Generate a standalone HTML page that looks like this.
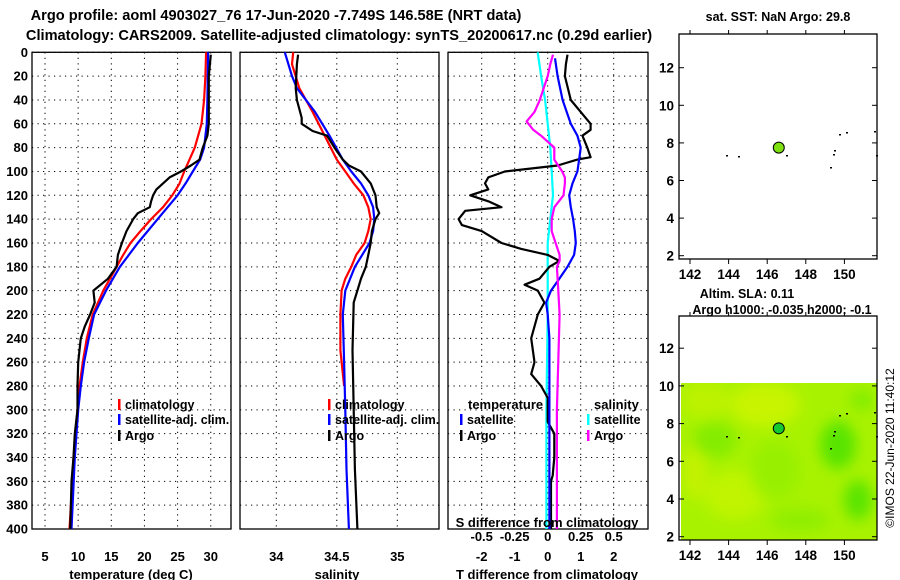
<!DOCTYPE html>
<html><head><meta charset="utf-8">
<style>
html,body{margin:0;padding:0;background:#fff;}
svg{display:block;font-family:"Liberation Sans",sans-serif;font-weight:bold;}
</style></head>
<body>
<svg id="chart" width="900" height="580" viewBox="0 0 900 580">
<text x="276" y="20" font-size="14.6" text-anchor="middle">Argo profile: aoml 4903027_76 17-Jun-2020 -7.749S 146.58E (NRT data)</text>
<text x="339" y="40" font-size="14.6" text-anchor="middle">Climatology: CARS2009. Satellite-adjusted climatology: synTS_20200617.nc (0.29d earlier)</text>
<text x="778" y="21" font-size="12.5" text-anchor="middle">sat. SST: NaN Argo: 29.8</text>
<text x="747" y="298" font-size="12.5" text-anchor="middle">Altim. SLA: 0.11</text>
<text x="782" y="314" font-size="12.5" text-anchor="middle">Argo h1000: -0.035 h2000: -0.1</text>
<text transform="translate(894,448) rotate(-90)" font-size="12" font-weight="normal" text-anchor="middle">©IMOS 22-Jun-2020 11:40:12</text>
<g id="g"></g>
</svg>
<script>
// ---- data ----
const depthTicks = [0,20,40,60,80,100,120,140,160,180,200,220,240,260,280,300,320,340,360,380,400];
const tempTicks = [5,10,15,20,25,30];
const salTicks = [34,34.5,35];
const tdiffTicks = [-2,-1,0,1,2];
const sdiffTicks = [-0.5,-0.25,0,0.25,0.5];
const latTicks = [2,4,6,8,10,12];
const lonTicks = [142,144,146,148,150];

const tClimDepth = [0,20,40,60,80,90,100,110,120,130,140,150,160,170,180,190,200,210,220,240,260,280,300,320,340,360,380,400];
const tClimVal   = [29.3,29.2,29.0,28.6,27.6,26.8,26.0,25.3,24.2,22.8,21.0,19.4,17.9,16.8,15.8,14.8,13.8,13.0,12.2,11.3,10.7,10.2,9.9,9.6,9.3,9.1,8.9,8.7];
const tSatDepth = [0,40,60,80,90,100,110,120,140,160,180,200,220,240,260,280,300,340,400];
const tSatVal   = [29.6,29.5,29.4,29.0,28.4,27.3,26.2,25.0,22.0,19.0,16.3,14.2,12.4,11.6,10.9,10.4,10.0,9.5,9.0];
const tArgoDepth = [2,20,40,60,70,80,90,95,100,105,110,115,120,125,130,135,140,150,160,170,180,190,200,210,220,230,240,260,280,300,320,340,360,380,400];
const tArgoVal   = [30,29.7,29.7,29.7,29.5,28.8,28.3,27.0,25.5,23.8,22.8,21.8,21.3,21.0,20.8,19.0,18.3,17.3,16.6,16.0,15.8,14.5,12.3,12.5,11.8,11.0,10.4,10.0,9.9,9.9,9.5,9.3,9.0,8.9,8.8];

const sClimDepth = [0,10,30,50,70,90,100,110,120,130,140,150,160,170,180,190,200,220,250,280];
const sClimVal   = [34.14,34.13,34.19,34.30,34.40,34.50,34.57,34.64,34.72,34.76,34.78,34.76,34.73,34.66,34.62,34.57,34.54,34.53,34.53,34.56];
const sSatDepth = [0,20,30,50,70,90,100,110,120,130,140,150,160,170,180,200,220,260,300,350,400];
const sSatVal   = [34.07,34.13,34.17,34.32,34.44,34.55,34.62,34.70,34.76,34.80,34.81,34.80,34.77,34.71,34.65,34.57,34.55,34.56,34.57,34.58,34.60];
const sArgoDepth = [2,10,30,40,55,60,66,70,80,90,95,100,110,120,130,135,140,150,160,170,180,190,200,210,250,300,350,400];
const sArgoVal   = [34.18,34.17,34.16,34.17,34.21,34.21,34.30,34.42,34.48,34.55,34.60,34.70,34.78,34.82,34.83,34.85,34.82,34.79,34.78,34.76,34.74,34.70,34.67,34.64,34.63,34.64,34.65,34.67];

const dtSatDepth = [5,20,40,60,70,80,90,100,110,120,130,140,150,160,170,180,190,200,210,220,240,300,400];
const dtSatVal   = [0.22,0.3,0.45,0.7,0.9,1.0,0.95,0.9,0.75,0.65,0.7,0.77,0.82,0.85,0.8,0.6,0.35,0.1,-0.05,0.0,0.05,0.05,0.05];
const dtArgoDepth = [2,10,20,40,50,60,65,70,80,88,90,95,100,105,110,115,120,125,130,133,140,145,150,160,165,170,175,180,190,195,200,210,220,240,260,270,280,290,310,320,340,355,360,400];
const dtArgoVal   = [0.6,0.55,0.52,0.7,1.0,1.3,1.3,1.05,1.2,1.3,0.9,0.3,-1.3,-1.8,-1.9,-1.8,-2.35,-1.8,-1.4,-2.5,-2.7,-2.6,-2.0,-1.4,-0.8,0.0,0.35,0.05,-0.25,-0.7,-0.3,-0.1,-0.3,-0.5,-0.4,-0.5,-0.2,0.0,0.0,0.2,0.2,0.15,0.1,0.1];
const dsSatDepth = [0,20,40,60,80,100,120,140,160,180,220,300,400];
const dsSatVal   = [-0.076,-0.05,-0.02,0.0,0.02,0.03,0.04,0.02,0.0,0.0,0.0,-0.01,-0.01];
const dsArgoDepth = [2,10,20,30,40,50,58,65,70,75,80,90,100,105,110,120,130,140,150,160,170,175,180,200,220,300,400];
const dsArgoVal   = [0.04,0.02,0.0,-0.03,-0.06,-0.1,-0.16,-0.11,-0.05,0.0,0.05,0.05,0.11,0.13,0.13,0.12,0.05,0.03,0.03,0.06,0.09,0.09,0.07,0.08,0.09,0.07,0.07];

const floatLon = [146.6];
const floatLat = [7.75];

// ---- axes ----
const NS='http://www.w3.org/2000/svg';
const G=document.getElementById('g');
const yTop=52.3, yBot=529;
const yD = d => yTop + d*(yBot-yTop)/400;
const xT = v => 45 + (v-5)*6.63;
const xS = v => 276.3 + (v-34)*121;
const xDT = v => 547.7 + v*33;
const xDS = v => 547.7 + v*132;
const lonX = v => 690 + (v-142)*19.3;
const lat1 = v => 255.7 - (v-2)*18.8;
const lat2 = v => 536.7 - (v-2)*18.85;

function mk(tag, attrs, parent){
  const e=document.createElementNS(NS,tag);
  for(const k in attrs) e.setAttribute(k,attrs[k]);
  (parent||G).appendChild(e); return e;
}
function txt(x,y,s,size,anchor,fill){
  const t=mk('text',{x:x,y:y,'font-size':size,'text-anchor':anchor||'middle',fill:fill||'#000'});
  t.textContent=s; return t;
}
function panel(name){
  const grp=mk('g',{});
  
  
  return grp;
}
function frame(x0,x1,grp){
  mk('rect',{x:x0,y:yTop,width:x1-x0,height:yBot-yTop,fill:'none',stroke:'#000','stroke-width':1.3},grp);
}
function hgrid(x0,x1,grp){
  depthTicks.forEach(d=>{ mk('line',{x1:x0,x2:x1,y1:yD(d),y2:yD(d),stroke:'#000','stroke-dasharray':'1.2,4.3','stroke-width':1},grp);});
}
function vgrid(xs,grp){
  xs.forEach(x=>{ mk('line',{x1:x,x2:x,y1:yTop,y2:yBot,stroke:'#000','stroke-dasharray':'1.2,4.3','stroke-width':1},grp);});
}
function line(depths,vals,xf,color,grp,name,w){
  const pts=depths.map((d,i)=>xf(vals[i]).toFixed(1)+','+yD(d).toFixed(1)).join(' ');
  const p=mk('polyline',{points:pts,fill:'none',stroke:color,'stroke-width':w||2.2,'stroke-linejoin':'round'},grp);
  
  
}
function legend(x,y,color,label,grp){
  mk('rect',{x:x,y:y-6,width:2.5,height:11,fill:color},grp);
  grp.appendChild(txt(x+7,y+4,label,12.5,'start'));
}

// Panel 1 temperature
const p1=panel('temperature-panel');
hgrid(32,231,p1); vgrid(tempTicks.map(xT),p1); frame(32,231,p1);
line(tClimDepth,tClimVal,xT,'#f00',p1,'temp-climatology-line');
line(tSatDepth,tSatVal,xT,'#00f',p1,'temp-satellite-line');
line(tArgoDepth,tArgoVal,xT,'#000',p1,'temp-argo-line');
depthTicks.forEach(d=>{ txt(28,yD(d)+4.5,String(d),13,'end'); });
tempTicks.forEach(v=>{ txt(xT(v),561,String(v),13); });
txt(131,579,'temperature (deg C)',13);
legend(118,405,'#f00','climatology',p1);
legend(118,420,'#00f','satellite-adj. clim.',p1);
legend(118,436,'#000','Argo',p1);

// Panel 2 salinity
const p2=panel('salinity-panel');
hgrid(240,439,p2); vgrid(salTicks.map(xS),p2); frame(240,439,p2);
line(sClimDepth,sClimVal,xS,'#f00',p2,'sal-climatology-line');
line(sSatDepth,sSatVal,xS,'#00f',p2,'sal-satellite-line');
line(sArgoDepth,sArgoVal,xS,'#000',p2,'sal-argo-line');
salTicks.forEach(v=>{ txt(xS(v),561,String(v),13); });
txt(337,579,'salinity',13);
legend(328,405,'#f00','climatology',p2);
legend(328,420,'#00f','satellite-adj. clim.',p2);
legend(328,436,'#000','Argo',p2);

// Panel 3 differences
const p3=panel('difference-panel');
hgrid(448,648,p3); vgrid(tdiffTicks.map(xDT),p3); frame(448,648,p3);
line(dsSatDepth,dsSatVal,xDS,'#0ff',p3,'sdiff-satellite-line');
line(dtArgoDepth,dtArgoVal,xDT,'#000',p3,'tdiff-argo-line');
line(dtSatDepth,dtSatVal,xDT,'#00f',p3,'tdiff-satellite-line');
line(dsArgoDepth,dsArgoVal,xDS,'#f0f',p3,'sdiff-argo-line');
tdiffTicks.forEach(v=>{ txt(xDT(v),561,String(v),13); });
txt(547,579,'T difference from climatology',13);
sdiffTicks.forEach(v=>{ txt(xDS(v),541,String(v),13); });
txt(547,527,'S difference from climatology',13);
p3.appendChild(txt(468,409,'temperature',13,'start'));
p3.appendChild(txt(594,409,'salinity',13,'start'));
legend(460,420,'#00f','satellite',p3);
legend(460,436,'#000','Argo',p3);
legend(587,420,'#0ff','satellite',p3);
legend(587,436,'#f0f','Argo',p3);

// Maps
function mapFrame(top,bot,latf,name){
  const grp=panel(name);
  mk('rect',{x:679,y:top,width:198,height:bot-top,fill:'none',stroke:'#000','stroke-width':1.3},grp);
  latTicks.forEach(v=>{ const y=latf(v);
    mk('line',{x1:679,x2:684,y1:y,y2:y,stroke:'#000'},grp);
    mk('line',{x1:872,x2:877,y1:y,y2:y,stroke:'#000'},grp);
    grp.appendChild(txt(674,y+5,String(v),13.5,'end')); });
  lonTicks.forEach(v=>{ const x=lonX(v);
    mk('line',{x1:x,x2:x,y1:bot,y2:bot+5,stroke:'#000'},grp);
    mk('line',{x1:x,x2:x,y1:top-4,y2:top,stroke:'#000'},grp);
    grp.appendChild(txt(x,bot+20,String(v),13.5)); });
  return grp;
}
const m1=mapFrame(34,259,lat1,'sst-map');
const m2top=316,m2bot=540;
const hm=panel('sla-heatmap');
mk('defs',{},hm).innerHTML='<filter id="bl" x="-20%" y="-20%" width="140%" height="140%"><feGaussianBlur stdDeviation="7"/></filter><clipPath id="cp"><rect x="681" y="383" width="196" height="157"/></clipPath>';
const hg=mk('g',{'clip-path':'url(#cp)'},hm);
mk('rect',{x:681,y:383,width:196,height:157,fill:'#a8f200'},hg);
const blobs=mk('g',{filter:'url(#bl)'},hg);
[[765,405,35,22,'#c8f400'],[705,400,25,18,'#bcf200'],[735,495,30,25,'#c0f400'],[695,470,12,30,'#c4f200'],
 [715,440,22,18,'#84ec00'],[775,470,25,30,'#98f000'],[838,445,18,24,'#58e400'],[858,500,14,20,'#5ae400'],
 [862,400,12,10,'#80ec00'],[800,520,30,12,'#90ee00']].forEach(b=>{
  mk('ellipse',{cx:b[0],cy:b[1],rx:b[2],ry:b[3],fill:b[4]},blobs);});
const m2=mapFrame(m2top,m2bot,lat2,'sla-map');

floatLon.forEach((lo,i)=>{
  const c1=mk('circle',{cx:lonX(lo),cy:lat1(floatLat[i]),r:5.5,fill:'#7ee010',stroke:'#000','stroke-width':1},m1);
  
  
  const c2=mk('circle',{cx:lonX(lo),cy:lat2(floatLat[i]),r:5.5,fill:'#14c830',stroke:'#000','stroke-width':1},m2);
  
  
});
[[726,155],[738,156],[786,155],[833,154],[834,150],[839,134],[846,132],[876,155],[830,167],[874,131]].forEach(p=>{
  mk('rect',{x:p[0],y:p[1],width:2,height:1.5,fill:'#000'},m1);
  mk('rect',{x:p[0],y:p[1]+281,width:2,height:1.5,fill:'#000'},m2);
});
</script>
</body></html>
